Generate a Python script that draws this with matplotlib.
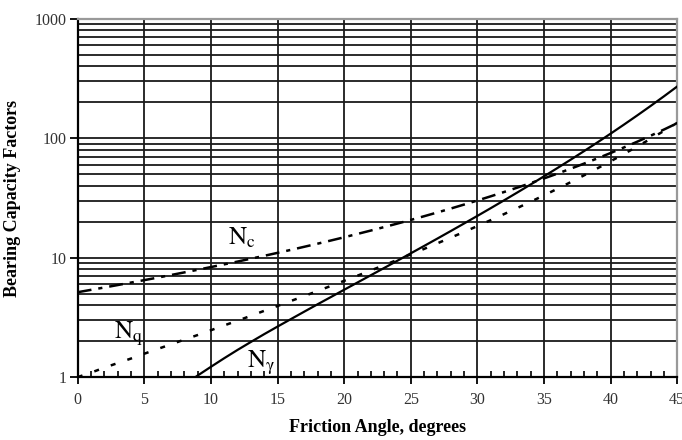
import numpy as np
import matplotlib
matplotlib.use('Agg')
import matplotlib.pyplot as plt
from matplotlib.ticker import FixedLocator, NullFormatter, MultipleLocator

plt.rcParams['font.family'] = ['Liberation Serif', 'DejaVu Serif']
plt.rcParams['mathtext.fontset'] = 'stix'
plt.rcParams['lines.scale_dashes'] = False

# Friction angle (degrees)
phi = list(range(0, 46))
# Bearing capacity factors
n_c = [5.14, 5.38, 5.63, 5.90, 6.19, 6.49, 6.81, 7.16, 7.53, 7.92,
       8.35, 8.80, 9.28, 9.81, 10.37, 10.98, 11.63, 12.34, 13.10, 13.93,
       14.83, 15.82, 16.88, 18.05, 19.32, 20.72, 22.25, 23.94, 25.80, 27.86,
       30.14, 32.67, 35.49, 38.64, 42.16, 46.12, 50.59, 55.63, 61.35, 67.87,
       75.31, 83.86, 93.71, 105.11, 118.37, 133.88]
n_q = [1.00, 1.09, 1.20, 1.31, 1.43, 1.57, 1.72, 1.88, 2.06, 2.25,
       2.47, 2.71, 2.97, 3.26, 3.59, 3.94, 4.34, 4.77, 5.26, 5.80,
       6.40, 7.07, 7.82, 8.66, 9.60, 10.66, 11.85, 13.20, 14.72, 16.44,
       18.40, 20.63, 23.18, 26.09, 29.44, 33.30, 37.75, 42.92, 48.93, 55.96,
       64.20, 73.90, 85.38, 99.02, 115.31, 134.88]
phi_g = list(range(8, 46))
n_g = [0.86, 1.03, 1.22, 1.44, 1.69, 1.97, 2.29, 2.65, 3.06, 3.53,
       4.07, 4.68, 5.39, 6.20, 7.13, 8.20, 9.44, 10.88, 12.54, 14.47,
       16.72, 19.34, 22.40, 25.99, 30.22, 35.19, 41.06, 48.03, 56.31, 66.19,
       78.03, 92.25, 109.41, 130.22, 155.55, 186.54, 224.64, 271.76]

fig = plt.figure(figsize=(6.82, 4.40), dpi=100)
ax = fig.add_axes([0.114, 0.143, 0.879, 0.814])
ax.set_yscale('log')
ax.set_xlim(0, 45)
ax.set_ylim(1, 1000)

# grid: every 5 degrees, every log step
grid_kw = dict(color='#1a1a1a', linewidth=1.3, zorder=1)
for x in range(5, 45, 5):
    ax.axvline(x, **grid_kw)
for dec in [1, 10, 100]:
    for m in range(1, 10):
        y = dec * m
        if y > 1:
            ax.axhline(y, **grid_kw)

ax.plot(phi_g, n_g, color='black', linewidth=1.6, zorder=3)
ax.plot(phi, n_c, color='black', linewidth=1.8, zorder=3,
        dashes=(10, 5, 3, 5))
ax.plot(phi, n_q, color='black', linewidth=1.8, zorder=3,
        dashes=(3.6, 9))

ax.text(11.3, 12.8, r'$\mathrm{N_c}$', fontsize=18, zorder=4)
ax.text(2.75, 2.1, r'$\mathrm{N_q}$', fontsize=18, zorder=4)
ax.text(12.7, 1.2, r'$\mathrm{N_\gamma}$', fontsize=18, zorder=4)

ax.xaxis.set_major_locator(MultipleLocator(5))
ax.xaxis.set_minor_locator(MultipleLocator(1))
ax.yaxis.set_major_locator(FixedLocator([1, 10, 100, 1000]))
ax.yaxis.set_major_formatter(matplotlib.ticker.FixedFormatter(['1', '10', '100', '1000']))
ax.yaxis.set_minor_locator(FixedLocator([]))
ax.yaxis.set_minor_formatter(NullFormatter())

ax.tick_params(axis='x', which='major', direction='out', length=5, width=1.3,
               labelsize=11.5, labelcolor='#333333', pad=6)
ax.tick_params(axis='x', which='minor', direction='in', length=4, width=1.2)
ax.tick_params(axis='y', which='major', direction='out', length=6, width=1.3,
               labelsize=11.5, labelcolor='#333333', pad=2)

for s in ['left', 'bottom']:
    ax.spines[s].set_color('black')
    ax.spines[s].set_linewidth(1.6)
for s in ['top', 'right']:
    ax.spines[s].set_color('#999999')
    ax.spines[s].set_linewidth(1.6)

ax.set_xlabel('Friction Angle, degrees', fontsize=13, fontweight='bold', labelpad=8)
ax.set_ylabel('Bearing Capacity Factors', fontsize=13, fontweight='bold', labelpad=10)

fig.savefig('out.png', dpi=100)
